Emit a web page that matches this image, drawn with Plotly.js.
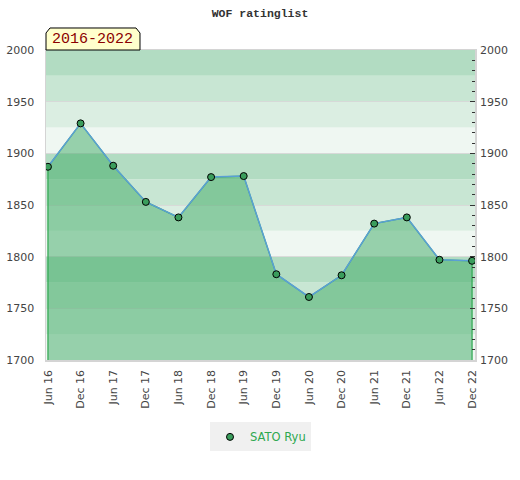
<!DOCTYPE html>
<html>
<head>
<meta charset="utf-8">
<script src="https://cdn.plot.ly/plotly-3.0.1.min.js"></script>
<style>html,body{margin:0;padding:0;background:#fff;}#chart{width:520px;height:480px;}</style>
</head>
<body>
<div id="chart"></div>
<script>
// ---- data ----
var periods = ['Jun 16','Dec 16','Jun 17','Dec 17','Jun 18','Dec 18','Jun 19','Dec 19','Jun 20','Dec 20','Jun 21','Dec 21','Jun 22','Dec 22'];
var ratings = [1887, 1929, 1888, 1853, 1838, 1877, 1878, 1783, 1761, 1782, 1832, 1838, 1797, 1796];
var playerName = 'SATO Ryu';
var chartTitle = 'WOF ratinglist';
var periodLabel = '2016-2022';
var yMin = 1700, yMax = 2000;
var bandStep = 25;
var bandColors = ['#eff7f2', '#dbeee2', '#c8e6d3', '#b2dcc2'];

// ---- background bands ----
var shapes = [];
var i = 0;
for (var y = yMin; y < yMax; y += bandStep, i++) {
  shapes.push({type:'rect', layer:'below', xref:'paper', x0:0, x1:1, yref:'y', y0:y, y1:y + bandStep,
    fillcolor: bandColors[i % bandColors.length], line:{width:0}});
}
// tab behind the period label
shapes.push({type:'path', xref:'paper', yref:'paper', layer:'above',
  path:'M 0 1 L 0 1.0548 L 0.0093 1.071 L 0.2098 1.071 L 0.2191 1.0548 L 0.2191 1 Z',
  fillcolor:'#ffffcc', line:{color:'#000', width:1}});

// ---- traces ----
var fillX = [periods[0]].concat(periods, [periods[periods.length - 1]]);
var fillY = [yMin].concat(ratings, [yMin]);

var traces = [
  {x: fillX, y: fillY, type:'scatter', mode:'lines', fill:'toself',
   fillcolor:'rgba(62,170,100,0.5)', line:{color:'#2ea84f', width:1.2},
   hoverinfo:'skip', showlegend:false},
  {x: periods, y: ratings, type:'scatter', mode:'lines',
   line:{color:'#5b9fd6', width:1.5}, showlegend:false},
  {x: periods, y: ratings, type:'scatter', mode:'markers', name: playerName,
   marker:{color:'#3a9d5c', size:7, line:{color:'#000', width:1}}},
  {x: periods, y: ratings, type:'scatter', mode:'none', yaxis:'y2', showlegend:false, hoverinfo:'skip'}
];

var axisFont = {family:'DejaVu Sans, sans-serif', size:11, color:'#444'};

var layout = {
  width:520, height:480,
  margin:{l:46, r:45, t:50, b:120},
  paper_bgcolor:'#fff', plot_bgcolor:'#fff',
  title:{text: chartTitle, x:0.5, xanchor:'center', y:0.973, yanchor:'middle',
    font:{family:'Liberation Mono, monospace', size:11.5, color:'#333', weight:'bold'}},
  xaxis:{type:'category', range:[-0.06, 13.09], tickangle:-90, tickfont:axisFont,
    showgrid:false, zeroline:false, showline:true, linecolor:'#d4d4d4', linewidth:1.5, mirror:true,
    ticks:'outside', ticklen:4, tickcolor:'rgba(0,0,0,0)'},
  yaxis:{range:[yMin, yMax], dtick:50, tickfont:axisFont, showgrid:true, gridcolor:'rgba(215,215,215,0.9)', gridwidth:1,
    zeroline:false, showline:true, linecolor:'#d4d4d4', linewidth:1.5, mirror:true,
    ticks:'outside', ticklen:8, tickcolor:'rgba(0,0,0,0)', fixedrange:true},
  yaxis2:{range:[yMin, yMax], dtick:50, overlaying:'y', side:'right', tickfont:axisFont,
    showgrid:false, zeroline:false, ticks:'inside', ticklen:5, tickcolor:'#333', tickwidth:1,
    ticklabelstandoff:4,
    minor:{dtick:10, ticks:'inside', ticklen:3, tickcolor:'#333', tickwidth:1, showgrid:false}},
  showlegend:true,
  legend:{orientation:'h', x:0.5, xanchor:'center', y:-0.248, yanchor:'middle', itemwidth:30,
    bgcolor:'#f0f0f0', font:{family:'DejaVu Sans, sans-serif', size:11.5, color:'#2ea84f'}},
  shapes: shapes,
  annotations:[{text: periodLabel, xref:'paper', yref:'paper', x:0.108, y:1.034,
    xanchor:'center', yanchor:'middle', showarrow:false,
    font:{family:'Liberation Mono, monospace', size:15, color:'#8b0000'}}]
};

Plotly.newPlot('chart', traces, layout, {displayModeBar:false, staticPlot:true});
</script>
</body>
</html>
